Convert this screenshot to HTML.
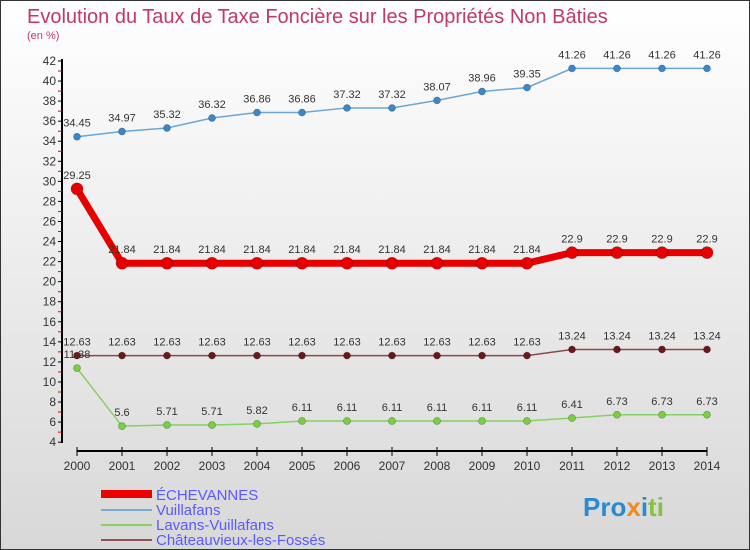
<!DOCTYPE html>
<html><head><meta charset="utf-8"><style>
body{margin:0}
#c{width:748px;height:548px;border:1px solid #333;background:linear-gradient(#fff,#d8d8d8);position:relative;font-family:"Liberation Sans",sans-serif;overflow:hidden}
</style></head><body>
<div id="c">
<svg id="s" width="748" height="548" style="position:absolute;left:0;top:0">
<text x="26" y="22" font-size="20" fill="#c2386a">Evolution du Taux de Taxe Foncière sur les Propriétés Non Bâties</text>
<text x="26" y="38" font-size="11" fill="#c2386a">(en %)</text>
<g id="axes"></g><g id="series"></g>
<g>
<rect x="100" y="489" width="51" height="8" fill="#e00"/>
<line x1="100" y1="509" x2="151" y2="509" stroke="#7aaad0" stroke-width="2"/>
<line x1="100" y1="524" x2="151" y2="524" stroke="#88d060" stroke-width="2"/>
<line x1="100" y1="539" x2="151" y2="539" stroke="#905050" stroke-width="2"/>
<g font-size="15" fill="#5a5aff">
<text x="155" y="499">ÉCHEVANNES</text>
<text x="155" y="514">Vuillafans</text>
<text x="155" y="529">Lavans-Vuillafans</text>
<text x="155" y="544">Châteauvieux-les-Fossés</text>
</g></g>
<text x="582" y="515" font-size="26" font-weight="bold"><tspan fill="#2a8ad0">Pro</tspan><tspan fill="#f08a20">x</tspan><tspan fill="#2a8ad0">i</tspan><tspan fill="#88c040">ti</tspan></text>
</svg>
</div>
<script>
const years=[2000,2001,2002,2003,2004,2005,2006,2007,2008,2009,2010,2011,2012,2013,2014];
const echevannes=[29.25,21.84,21.84,21.84,21.84,21.84,21.84,21.84,21.84,21.84,21.84,22.9,22.9,22.9,22.9];
const vuillafans=[34.45,34.97,35.32,36.32,36.86,36.86,37.32,37.32,38.07,38.96,39.35,41.26,41.26,41.26,41.26];
const lavans=[11.38,5.6,5.71,5.71,5.82,6.11,6.11,6.11,6.11,6.11,6.11,6.41,6.73,6.73,6.73];
const chateau=[12.63,12.63,12.63,12.63,12.63,12.63,12.63,12.63,12.63,12.63,12.63,13.24,13.24,13.24,13.24];
const yTicks=[4,6,8,10,12,14,16,18,20,22,24,26,28,30,32,34,36,38,40,42];
const ns="http://www.w3.org/2000/svg";
const X=i=>76+i*45, Y=v=>60+(42-v)*10.03;
function mk(tag,attrs,parent){const e=document.createElementNS(ns,tag);for(const k in attrs)e.setAttribute(k,attrs[k]);parent.appendChild(e);return e;}
const ax=document.getElementById('axes');
let l=mk('line',{x1:61,y1:58,x2:61,y2:442,stroke:'#000','stroke-width':2},ax);


l=mk('line',{x1:76,y1:450,x2:706,y2:450,stroke:'#000','stroke-width':2},ax);


yTicks.forEach(v=>{
 mk('line',{x1:57,y1:Y(v),x2:61,y2:Y(v),stroke:'#000'},ax);
 if(v<42)mk('line',{x1:57,y1:Y(v+1),x2:61,y2:Y(v+1),stroke:'#e00'},ax);
 const t=mk('text',{x:55,y:Y(v)+4,'text-anchor':'end','font-size':12,fill:'#333'},ax);
 t.textContent=v;
 
 
});
years.forEach((yr,i)=>{
 mk('line',{x1:X(i),y1:446,x2:X(i),y2:455,stroke:'#000'},ax);
 const t=mk('text',{x:X(i),y:469,'text-anchor':'middle','font-size':12,fill:'#333'},ax);
 t.textContent=yr;
 
 
});
const sg=document.getElementById('series');
function series(data,name,color,dot,w,r){
 const g=mk('g',{},sg);
 
 
 const p=mk('polyline',{points:data.map((v,i)=>X(i)+','+Y(v)).join(' '),fill:'none',stroke:color,'stroke-width':w},g);
 
 
 data.forEach((v,i)=>{
  const c=mk('circle',{cx:X(i),cy:Y(v),r:r,fill:dot,stroke:'rgba(0,0,0,0.3)','stroke-width':0.7},g);
  
  
  const t=mk('text',{x:X(i),y:Y(v)-10,'text-anchor':'middle','font-size':11,fill:'#333'},g);
  t.textContent=String(v).replace('.','.');
  
  
 });
}
series(vuillafans,'vuillafans','#6aa6d6','#3a88c8',1.5,3.5);
series(chateau,'chateauvieux','#8a4a4a','#6a1818',1.5,3.5);
series(lavans,'lavans','#88d060','#78d040',1.5,3.5);
series(echevannes,'echevannes','#e80000','#e80000',7,6);
</script>
</body></html>
